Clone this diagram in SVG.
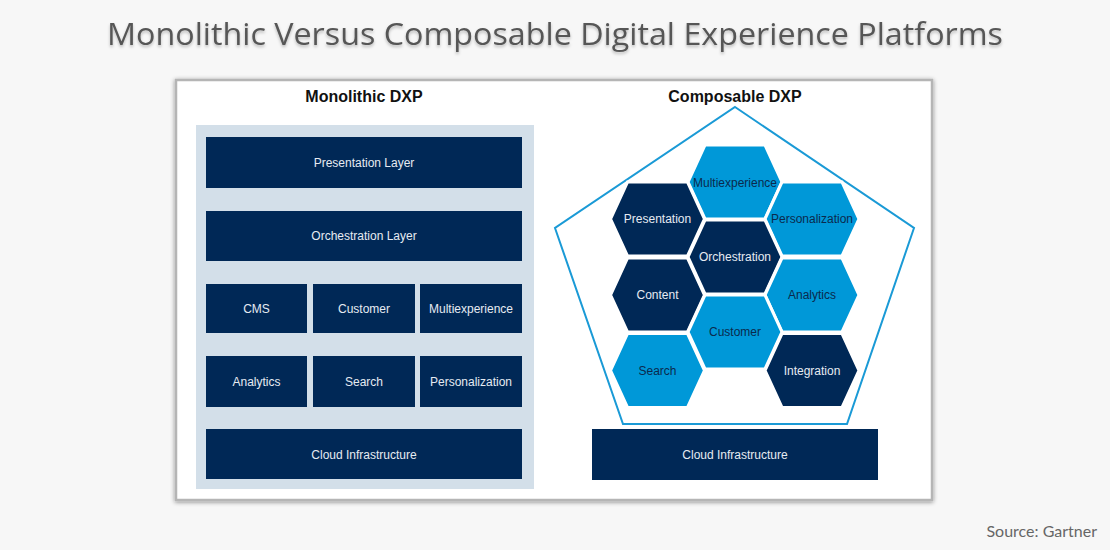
<svg xmlns="http://www.w3.org/2000/svg" width="1110" height="550" viewBox="0 0 1110 550">
<defs>
<style>
.title{font-family:"Open Sans","Noto Sans",sans-serif;font-size:31px;fill:#575757}
.sub{font-family:"Liberation Sans",Arial,sans-serif;font-size:16px;font-weight:bold;fill:#111}
.lbl{font-family:"Liberation Sans",Arial,sans-serif;font-size:12px;text-anchor:middle;dominant-baseline:central}
.dk{fill:#002856}
.lt{fill:#0098d8}
.tw{fill:#e6ebf2}
.td{fill:#0b2a4d}
.hex{stroke:#fff;stroke-width:3}
</style>
<filter id="ts" x="-5%" y="-30%" width="110%" height="160%"><feDropShadow dx="0" dy="2" stdDeviation="1.5" flood-color="#000" flood-opacity="0.25"/></filter>
<filter id="ps" x="-5%" y="-5%" width="110%" height="110%"><feDropShadow dx="0" dy="1" stdDeviation="2" flood-color="#000" flood-opacity="0.45"/></filter>
<polygon id="hx" points="-47,0 -30,-37 30,-37 47,0 30,37 -30,37"/>
</defs>
<rect width="1110" height="550" fill="#f7f7f7"/>
<text class="title" x="555" y="45" text-anchor="middle" filter="url(#ts)" textLength="896" lengthAdjust="spacingAndGlyphs">Monolithic Versus Composable Digital Experience Platforms</text>
<rect x="176" y="80" width="756" height="420" fill="#fff" stroke="#b5b5b5" stroke-width="2.5" filter="url(#ps)"/>
<g id="monolithic">
<text class="sub" x="364" y="102" text-anchor="middle">Monolithic DXP</text>
<rect x="196" y="125" width="338" height="364" fill="#d3dfe9"/>
<g id="m-presentation"><rect class="dk" x="206" y="137" width="316" height="51"/><text class="lbl tw" x="364" y="163">Presentation Layer</text></g>
<g id="m-orchestration"><rect class="dk" x="206" y="211" width="316" height="50"/><text class="lbl tw" x="364" y="236">Orchestration Layer</text></g>
<g id="m-cms"><rect class="dk" x="206" y="284" width="101" height="49"/><text class="lbl tw" x="256.5" y="308.5">CMS</text></g>
<g id="m-customer"><rect class="dk" x="313" y="284" width="102" height="49"/><text class="lbl tw" x="364" y="308.5">Customer</text></g>
<g id="m-multi"><rect class="dk" x="420" y="284" width="102" height="49"/><text class="lbl tw" x="471" y="308.5">Multiexperience</text></g>
<g id="m-analytics"><rect class="dk" x="206" y="356" width="101" height="51"/><text class="lbl tw" x="256.5" y="381.5">Analytics</text></g>
<g id="m-search"><rect class="dk" x="313" y="356" width="102" height="51"/><text class="lbl tw" x="364" y="381.5">Search</text></g>
<g id="m-personalization"><rect class="dk" x="420" y="356" width="102" height="51"/><text class="lbl tw" x="471" y="381.5">Personalization</text></g>
<g id="m-cloud"><rect class="dk" x="206" y="429" width="316" height="50"/><text class="lbl tw" x="364" y="454.5">Cloud Infrastructure</text></g>
</g>
<g id="composable">
<text class="sub" x="735" y="102" text-anchor="middle">Composable DXP</text>
<polygon points="735,107 914,228 847,424 623,424 555,228" fill="none" stroke="#1a9ad6" stroke-width="2"/>
<g id="c-multi"><use href="#hx" class="lt hex" x="735" y="182"/><text class="lbl td" x="735" y="183">Multiexperience</text></g>
<g id="c-presentation"><use href="#hx" class="dk hex" x="657.5" y="219"/><text class="lbl tw" x="657.5" y="219">Presentation</text></g>
<g id="c-personalization"><use href="#hx" class="lt hex" x="812" y="219"/><text class="lbl td" x="812" y="219">Personalization</text></g>
<g id="c-orchestration"><use href="#hx" class="dk hex" x="735" y="257"/><text class="lbl tw" x="735" y="257">Orchestration</text></g>
<g id="c-content"><use href="#hx" class="dk hex" x="657.5" y="295"/><text class="lbl tw" x="657.5" y="295">Content</text></g>
<g id="c-analytics"><use href="#hx" class="lt hex" x="812" y="295"/><text class="lbl td" x="812" y="295">Analytics</text></g>
<g id="c-customer"><use href="#hx" class="lt hex" x="735" y="332"/><text class="lbl td" x="735" y="332">Customer</text></g>
<g id="c-search"><use href="#hx" class="lt hex" x="657.5" y="370.5"/><text class="lbl td" x="657.5" y="370.5">Search</text></g>
<g id="c-integration"><use href="#hx" class="dk hex" x="812" y="370.5"/><text class="lbl tw" x="812" y="370.5">Integration</text></g>
<g id="c-cloud"><rect class="dk" x="592" y="429" width="286" height="51"/><text class="lbl tw" x="735" y="454.5">Cloud Infrastructure</text></g>
</g>
<g id="connectors"/>
<text x="1097" y="537" text-anchor="end" font-family="Lato,'Noto Sans',sans-serif" font-size="16" fill="#666">Source: Gartner</text>
</svg>
